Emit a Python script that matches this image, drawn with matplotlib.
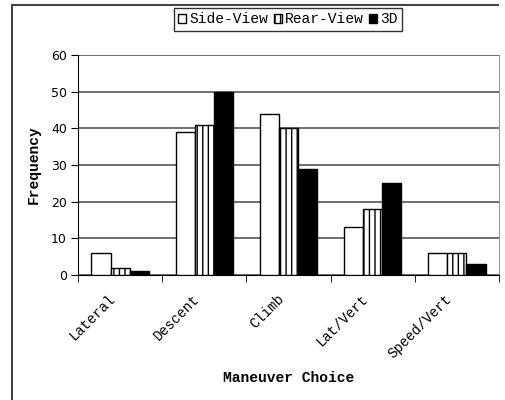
import numpy as np
import matplotlib
matplotlib.use("Agg")
import matplotlib.pyplot as plt
from matplotlib.lines import Line2D
from matplotlib.patches import Patch

categories = ["Lateral", "Descent", "Climb", "Lat/Vert", "Speed/Vert"]
side_view = [6, 39, 44, 13, 6]
rear_view = [2, 41, 40, 18, 6]
view_3d = [1, 50, 29, 25, 3]
series_names = ["Side-View", "Rear-View", "3D"]
y_ticks = [0, 10, 20, 30, 40, 50, 60]

mono = ["Liberation Mono", "DejaVu Sans Mono"]
plt.rcParams["hatch.linewidth"] = 1.0
plt.rcParams["hatch.color"] = "black"

fig = plt.figure(figsize=(5.06, 4.0), dpi=100)
ax = fig.add_axes([78 / 506, 1 - 275 / 400, (499 - 78) / 506, (275 - 55) / 400])

x = np.arange(len(categories))
w = 0.227
styles = [
    dict(facecolor="white", hatch=None),
    dict(facecolor="white", hatch="|||"),
    dict(facecolor="black", hatch=None),
]
for i, (vals, st) in enumerate(zip([side_view, rear_view, view_3d], styles)):
    ax.bar(x + (i - 1) * w, vals, width=w, edgecolor="black", linewidth=1.0,
           zorder=3, **st)

ax.set_xlim(-0.5, len(categories) - 0.5)
ax.set_ylim(0, 60)
ax.set_yticks(y_ticks)
ax.yaxis.grid(True, color="#555555", linewidth=1.2, zorder=0)
ax.set_axisbelow(True)

ax.spines["top"].set_visible(False)
ax.spines["right"].set_color("#999999")
ax.spines["left"].set_color("black")
ax.spines["bottom"].set_color("black")

# labels sit a bit left of the category centre, like the original
ax.set_xticks(x - 0.14)
ax.set_xticklabels(categories, rotation=45, ha="right", rotation_mode="anchor",
                   family=mono, fontsize=10)
ax.set_xticks(np.arange(len(categories) + 1) - 0.5, minor=True)
ax.tick_params(axis="x", which="major", length=0, pad=12)
ax.tick_params(axis="x", which="minor", length=5, direction="out", color="black")
ax.tick_params(axis="y", length=5, direction="out", labelsize=9, pad=3)

ax.set_xlabel("Maneuver Choice", family=mono, fontweight="bold", fontsize=10.5,
              labelpad=7)
ax.set_ylabel("Frequency", family=mono, fontweight="bold", fontsize=10.5,
              labelpad=7)

handles = [
    Patch(facecolor="white", edgecolor="black"),
    Patch(facecolor="white", edgecolor="black", hatch="|||"),
    Patch(facecolor="black", edgecolor="black"),
]
leg = fig.legend(handles, series_names, loc="upper center",
                 bbox_to_anchor=(288 / 506, 1 - 8 / 400), ncol=3,
                 prop={"family": mono, "size": 10.5}, frameon=True, fancybox=False,
                 handlelength=0.55, handleheight=0.55, handletextpad=0.2,
                 columnspacing=0.4, borderpad=0.3, borderaxespad=0)
leg.get_frame().set_edgecolor("black")
leg.get_frame().set_linewidth(1.0)

# outer chart border (left and top only)
fig.add_artist(Line2D([12 / 506, 12 / 506], [0, 1 - 5 / 400], color="#444444",
                      linewidth=1.5, transform=fig.transFigure))
fig.add_artist(Line2D([12 / 506, 498 / 506], [1 - 5 / 400, 1 - 5 / 400],
                      color="#444444", linewidth=1.5, transform=fig.transFigure))

fig.savefig("out.png", dpi=100)
